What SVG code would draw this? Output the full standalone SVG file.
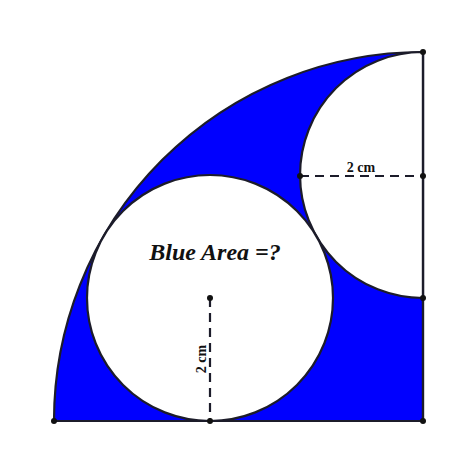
<svg xmlns="http://www.w3.org/2000/svg" width="474" height="474" viewBox="0 0 474 474">
<style>
.edge{stroke:#1c1c2a;stroke-width:2.2;fill:none}
.dash{stroke:#1c1c2a;stroke-width:2.2;stroke-dasharray:9 6;fill:none}
.dot{fill:#111}
.lbl{font-family:"Liberation Serif",serif;font-weight:bold;fill:#111}
</style>
<rect width="474" height="474" fill="#fff"/>
<g id="quarter">
<path d="M423 421 L54 421 A369 369 0 0 1 423 52 Z" fill="#0000ff" class="edge" style="fill:#0000ff"/>
</g>
<g id="semicircle">
<path d="M423 52 A123 123 0 0 0 423 298 Z" fill="#fff" class="edge" style="fill:#fff"/>
</g>
<g id="circle">
<circle cx="210" cy="298" r="123" class="edge" style="fill:#fff"/>
</g>
<g id="connectors">
<line x1="423" y1="52" x2="423" y2="421" class="edge"/>
<line x1="300" y1="176" x2="423" y2="176" class="dash"/>
<line x1="210" y1="298" x2="210" y2="421" class="dash"/>
</g>
<g id="points">
<circle cx="54" cy="421" r="3" class="dot"/>
<circle cx="210" cy="421" r="3" class="dot"/>
<circle cx="423" cy="421" r="3" class="dot"/>
<circle cx="423" cy="298" r="3" class="dot"/>
<circle cx="423" cy="176" r="3" class="dot"/>
<circle cx="423" cy="52" r="3" class="dot"/>
<circle cx="300" cy="176" r="3" class="dot"/>
<circle cx="210" cy="298" r="3" class="dot"/>
</g>
<g id="labels">
<text x="215" y="260" class="lbl" font-size="24" font-style="italic" text-anchor="middle">Blue Area =?</text>
<text x="361" y="172" class="lbl" font-size="14" text-anchor="middle">2 cm</text>
<text x="0" y="0" class="lbl" font-size="14" text-anchor="middle" transform="translate(206 359) rotate(-90)">2 cm</text>
</g>
</svg>
